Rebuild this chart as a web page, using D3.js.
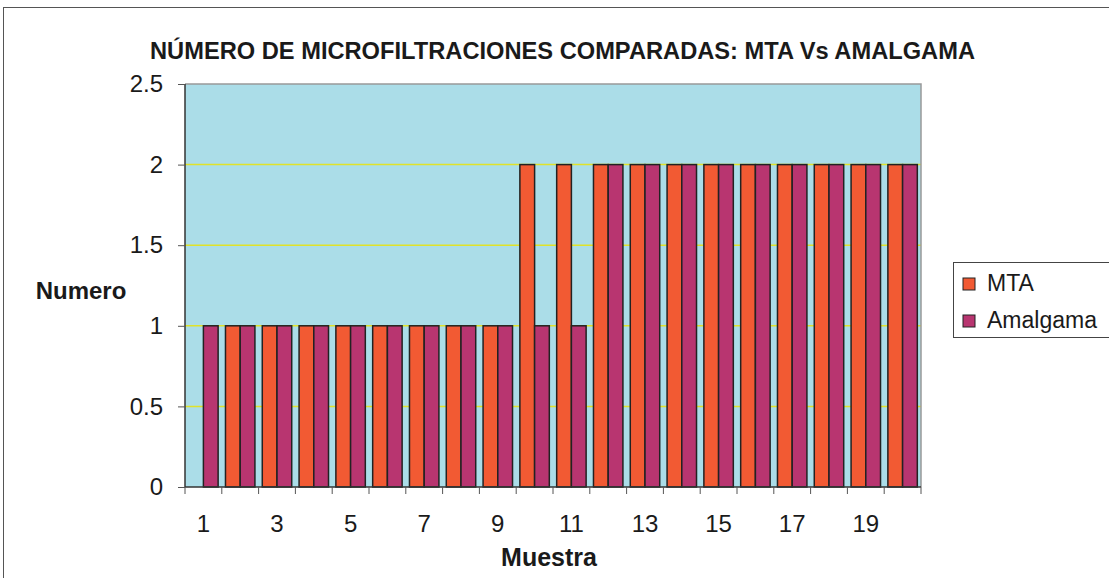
<!DOCTYPE html>
<html lang="es">
<head>
<meta charset="UTF-8">
<title>Número de microfiltraciones</title>
<style>
  html, body { margin: 0; padding: 0; background: #fff; }
  svg { display: block; font-family: "Liberation Sans", Arial, sans-serif; }
</style>
<script src="https://d3js.org/d3.v7.min.js"></script>
</head>
<body>
<svg id="chart" width="1109" height="578"></svg>
<script>
// datos
var muestras = d3.range(1, 21);
var mta      = [0, 1, 1, 1, 1, 1, 1, 1, 1, 2, 2, 2, 2, 2, 2, 2, 2, 2, 2, 2];
var amalgama = [1, 1, 1, 1, 1, 1, 1, 1, 1, 1, 1, 2, 2, 2, 2, 2, 2, 2, 2, 2];
var series = [
  { name: "MTA", values: mta, color: "#f25a33" },
  { name: "Amalgama", values: amalgama, color: "#b83570" }
];
var yTicks = [0, 0.5, 1, 1.5, 2, 2.5];

var svg = d3.select("#chart");
var pLeft = 185, pRight = 921, pTop = 84, pBottom = 487;

// marco exterior
svg.append("rect")
  .attr("x", 3.5).attr("y", 7.5)
  .attr("width", 1120).attr("height", 600)
  .attr("fill", "#fff").attr("stroke", "#555").attr("stroke-width", 1);

var x = d3.scaleBand().domain(muestras).range([pLeft, pRight]);
var xi = d3.scaleBand().domain(series.map(d => d.name))
  .range([0, x.bandwidth()]).paddingOuter(0.25).paddingInner(0);
var y = d3.scaleLinear().domain([0, 2.5]).range([pBottom, pTop]);

// fondo del área de trazado
svg.append("rect")
  .attr("x", pLeft).attr("y", pTop)
  .attr("width", pRight - pLeft).attr("height", pBottom - pTop)
  .attr("fill", "#abdde8");

// líneas de cuadrícula
svg.selectAll(".grid")
  .data(yTicks.filter(t => t > 0 && t < 2.5))
  .enter().append("line")
  .attr("x1", pLeft).attr("x2", pRight)
  .attr("y1", d => y(d)).attr("y2", d => y(d))
  .attr("stroke", "#e0e22a").attr("stroke-width", 1.5);

// borde superior y derecho
svg.append("path")
  .attr("d", "M" + pLeft + "," + pTop + "H" + pRight + "V" + pBottom)
  .attr("fill", "none").attr("stroke", "#999").attr("stroke-width", 1.5);

// barras
var groups = svg.selectAll(".grupo")
  .data(series)
  .enter().append("g")
  .attr("class", "grupo");

groups.selectAll("rect")
  .data(s => s.values.map((v, i) => ({ name: s.name, muestra: muestras[i], v: v, color: s.color })))
  .enter().filter(d => d.v > 0).append("rect")
  .attr("x", d => x(d.muestra) + xi(d.name))
  .attr("width", xi.bandwidth())
  .attr("y", d => y(d.v))
  .attr("height", d => y(0) - y(d.v))
  .attr("fill", d => d.color)
  .attr("stroke", "#222")
  .attr("stroke-width", 1.5);

// eje Y
var yAxis = svg.append("g")
  .attr("transform", "translate(" + pLeft + ",0)")
  .call(d3.axisLeft(y).tickValues(yTicks).tickSize(7).tickPadding(15)
    .tickFormat(d => String(d)));
yAxis.select(".domain").attr("stroke", "#333").attr("stroke-width", 1.5).attr("d", "M0," + pTop + "V" + pBottom);
yAxis.selectAll(".tick line").attr("stroke", "#555");
yAxis.selectAll("text").attr("font-size", 24).attr("fill", "#1a1a1a")
  .attr("font-family", "Liberation Sans, Arial, sans-serif");

// eje X: marcas entre categorías
var xAxis = svg.append("g").attr("transform", "translate(0," + pBottom + ")");
xAxis.append("line")
  .attr("x1", pLeft).attr("x2", pRight)
  .attr("stroke", "#333").attr("stroke-width", 1.5);
xAxis.selectAll(".tk")
  .data(muestras.map(m => x(m)).concat([pRight]))
  .enter().append("line")
  .attr("x1", d => d).attr("x2", d => d)
  .attr("y1", 0).attr("y2", 7)
  .attr("stroke", "#555");
xAxis.selectAll(".lbl")
  .data(muestras.filter(m => m % 2 === 1))
  .enter().append("text")
  .attr("x", d => x(d) + x.bandwidth() / 2)
  .attr("y", 45)
  .attr("text-anchor", "middle")
  .attr("font-size", 24).attr("fill", "#1a1a1a")
  .text(d => d);

// títulos
svg.append("text")
  .attr("x", 150).attr("y", 59)
  .attr("textLength", 825).attr("lengthAdjust", "spacingAndGlyphs")
  .attr("font-size", 23).attr("font-weight", "bold").attr("fill", "#1a1a1a")
  .text("NÚMERO DE MICROFILTRACIONES COMPARADAS: MTA Vs AMALGAMA");

svg.append("text")
  .attr("x", 81).attr("y", 299)
  .attr("text-anchor", "middle")
  .attr("font-size", 24).attr("font-weight", "bold").attr("fill", "#1a1a1a")
  .text("Numero");

svg.append("text")
  .attr("x", 549).attr("y", 566)
  .attr("text-anchor", "middle")
  .attr("font-size", 25).attr("font-weight", "bold").attr("fill", "#1a1a1a")
  .text("Muestra");

// leyenda
var legend = svg.append("g").attr("transform", "translate(953,262)");
legend.append("rect")
  .attr("x", 0.5).attr("y", 0.5).attr("width", 170).attr("height", 75)
  .attr("fill", "#fff").attr("stroke", "#444");
var li = legend.selectAll(".li").data(series).enter().append("g")
  .attr("transform", (d, i) => "translate(10," + (16 + i * 37) + ")");
li.append("rect")
  .attr("width", 12).attr("height", 12)
  .attr("fill", d => d.color).attr("stroke", "#222");
li.append("text")
  .attr("x", 24).attr("y", 13)
  .attr("font-size", 23).attr("fill", "#1a1a1a")
  .text(d => d.name);
</script>
</body>
</html>
